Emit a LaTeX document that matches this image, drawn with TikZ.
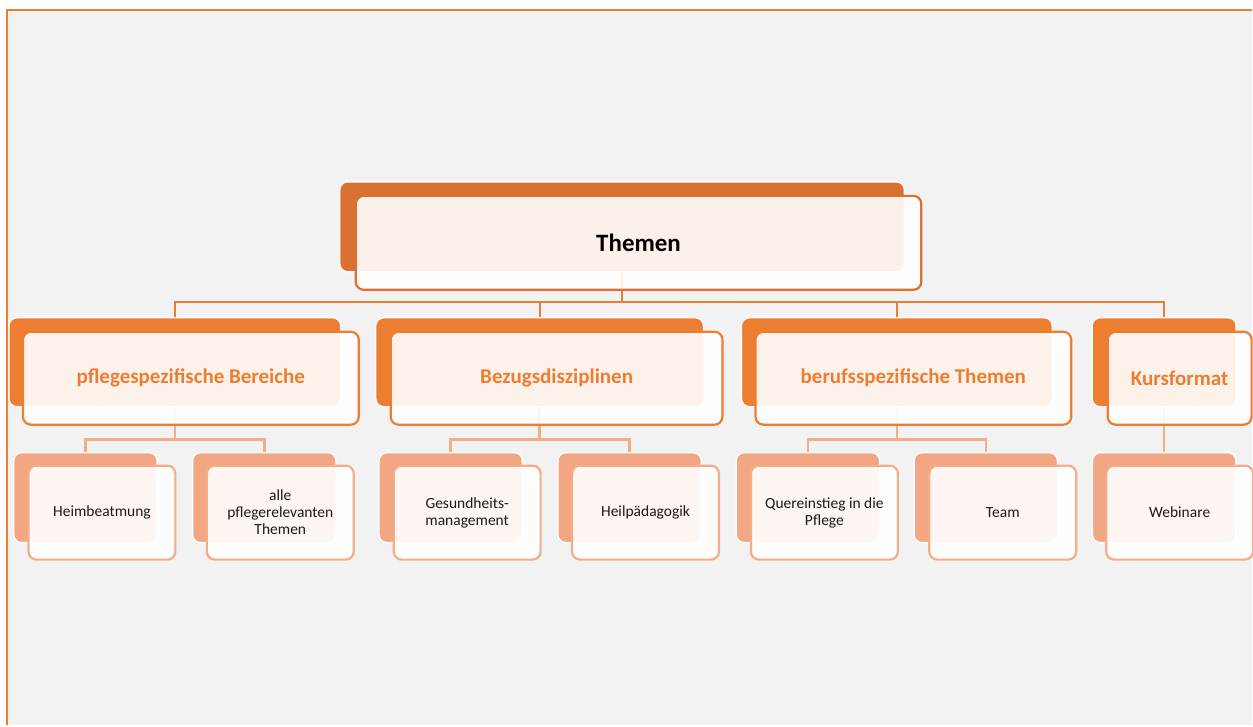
\documentclass[tikz,border=0pt]{standalone}
\usepackage{fontspec}
\setmainfont{Carlito}
\definecolor{topdark}{HTML}{D97130}
\definecolor{acc}{HTML}{ED7D31}
\definecolor{leafback}{HTML}{F2A682}
\definecolor{leafline}{HTML}{F3AD88}
\definecolor{bggray}{HTML}{F2F2F2}
\definecolor{leaftext}{HTML}{1A1A1A}
\tikzset{
  boxbase/.style={rectangle, rounded corners=8pt, inner sep=0pt, align=center},
  backbase/.style={boxbase, draw=white, line width=1.3pt},
  frontbase/.style={boxbase, fill=white, fill opacity=0.9, text opacity=1, line width=2.2pt},
  topback/.style={backbase, fill=topdark, minimum width=565pt, minimum height=90pt},
  topfront/.style={frontbase, draw=topdark, minimum width=566pt, minimum height=94pt,
    font=\fontsize{25}{30}\selectfont\bfseries, text=black},
  midback/.style={backbase, fill=acc, minimum height=89pt},
  midfront/.style={frontbase, draw=acc, minimum height=93pt,
    font=\fontsize{21}{25}\selectfont\bfseries, text=acc},
  leafbackbox/.style={backbase, fill=leafback, minimum width=143.5pt, minimum height=90pt},
  leaffront/.style={frontbase, draw=leafline, minimum width=147pt, minimum height=94pt,
    font=\fontsize{15.5}{17}\selectfont, text=leaftext},
  conntop/.style={draw=acc, line width=2pt},
  connleaf/.style={draw=leafline, line width=2.4pt},
}
\begin{document}
\begin{tikzpicture}[x=1pt,y=-1pt]
% background and frame
\fill[white] (0,0) rectangle (1253,726);
\fill[bggray] (7,10) rectangle (1253,726);
\draw[acc, line width=1.8pt] (7,726) -- (7,10) -- (1253,10);
\useasboundingbox (0,0) rectangle (1253,726);

% back boxes (placed first so connectors can refer to them)
\node[topback] (t0b) at (622.5,227) {};
\node[midback, minimum width=332pt] (pb) at (175,362.5) {};
\node[midback, minimum width=328pt] (bb) at (540,362.5) {};
\node[midback, minimum width=311pt] (fb) at (897.5,362.5) {};
\node[midback, minimum width=144pt] (kb) at (1165,362.5) {};

\node[leafbackbox] (l1b) at (85.5,498) {};
\node[leafbackbox] (l2b) at (264.5,498) {};
\node[leafbackbox] (l3b) at (451,498) {};
\node[leafbackbox] (l4b) at (630,498) {};
\node[leafbackbox] (l5b) at (808.5,498) {};
\node[leafbackbox] (l6b) at (986.5,498) {};
\node[leafbackbox] (l7b) at (1165,498) {};

% connectors
\path[conntop] (t0b.south) -- ++(0,30) -| (pb.north);
\path[conntop] (t0b.south) -- ++(0,30) -| (bb.north);
\path[conntop] (t0b.south) -- ++(0,30) -| (fb.north);
\path[conntop] (t0b.south) -- ++(0,30) -| (kb.north);

\path[connleaf] (pb.south) -- ++(0,32) -| (l1b.north);
\path[connleaf] (pb.south) -- ++(0,32) -| (l2b.north);
\path[connleaf] (bb.south) -- ++(0,32) -| (l3b.north);
\path[connleaf] (bb.south) -- ++(0,32) -| (l4b.north);
\path[connleaf] (fb.south) -- ++(0,32) -| (l5b.north);
\path[connleaf] (fb.south) -- ++(0,32) -| (l6b.north);
\path[connleaf] (kb.south) -- (l7b.north);

% front boxes
\node[topfront] (t0) at (639,243) {Themen};
\node[midfront, minimum width=336pt] (p) at (191,378.5) {pflegespezifische Bereiche};
\node[midfront, minimum width=332pt] (b) at (557,378.5) {Bezugsdisziplinen};
\node[midfront, minimum width=316pt] (f) at (914,378.5) {berufsspezifische Themen};
\node[midfront, minimum width=144pt] (k) at (1180.5,378.5) {Kursformat};

\node[leaffront] (l1) at (102,513) {Heimbeatmung};
\node[leaffront] (l2) at (280.5,513) {alle\\pflegerelevanten\\Themen};
\node[leaffront] (l3) at (467.5,513) {Gesundheits-\\management};
\node[leaffront] (l4) at (646,513) {Heilpädagogik};
\node[leaffront] (l5) at (825,513) {Quereinstieg in die\\Pflege};
\node[leaffront] (l6) at (1003.5,513) {Team};
\node[leaffront] (l7) at (1180.5,513) {Webinare};
\end{tikzpicture}
\end{document}
